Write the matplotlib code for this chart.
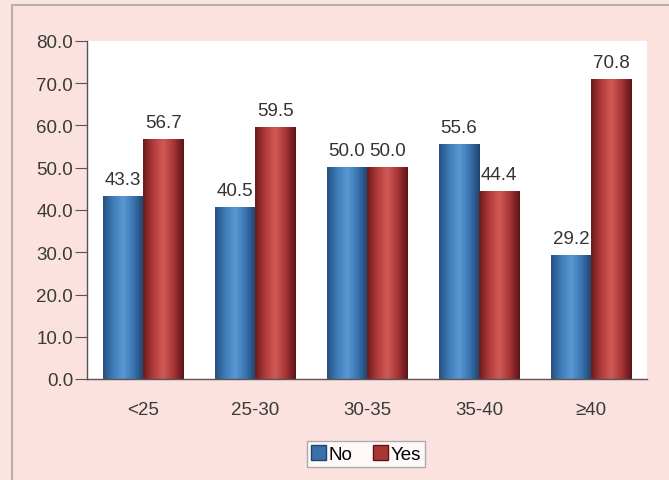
import numpy as np
import matplotlib
matplotlib.use('Agg')
import matplotlib.pyplot as plt
from matplotlib.patches import Rectangle
from matplotlib.colors import LinearSegmentedColormap

plt.rcParams['font.family'] = ['Liberation Sans', 'DejaVu Sans']

categories = ['<25', '25-30', '30-35', '35-40', '≥40']
no_values = [43.3, 40.5, 50.0, 55.6, 29.2]
yes_values = [56.7, 59.5, 50.0, 44.4, 70.8]

blue_map = LinearSegmentedColormap.from_list('blue_bar', ['#24507e', '#3f7dbb', '#5a97d2', '#3a74b0', '#1e4470'])
red_map = LinearSegmentedColormap.from_list('red_bar', ['#6e1a1c', '#b13c3c', '#cf5a55', '#a83636', '#5e1416'])

fig = plt.figure(figsize=(6.69, 4.81), dpi=100)
fig.patch.set_facecolor('#fce4e1')

# panel frame: gray rule on top and left
fig.patches.append(Rectangle((12 / 669, -0.01), 1, 1 - 6 / 481 + 0.01, transform=fig.transFigure,
                             facecolor='#fbe2df', edgecolor='#b8b0ae', linewidth=1.5, zorder=-5))

ax = fig.add_axes([87 / 669, 1 - 380 / 481, 560 / 669, 338 / 481])
ax.set_facecolor('white')

x = np.arange(len(categories))
width = 0.36
grad = np.linspace(0, 1, 64).reshape(1, -1)


def shaded_bars(xs, vals, cmap):
    for xi, v in zip(xs, vals):
        ax.imshow(grad, cmap=cmap, aspect='auto', extent=(xi - width / 2, xi + width / 2, 0, v),
                  zorder=2, interpolation='bicubic')


shaded_bars(x - width / 2, no_values, blue_map)
shaded_bars(x + width / 2, yes_values, red_map)

for xi, v in zip(x - width / 2, no_values):
    ax.text(xi, v + 2, f'{v:.1f}', ha='center', va='bottom', fontsize=13.5, color='#333333')
for xi, v in zip(x + width / 2, yes_values):
    ax.text(xi, v + 2, f'{v:.1f}', ha='center', va='bottom', fontsize=13.5, color='#333333')

ax.set_xlim(-0.5, len(categories) - 0.5)
ax.set_ylim(0, 80)
ax.set_yticks(np.arange(0, 81, 10))
ax.set_yticklabels([f'{t:.1f}' for t in np.arange(0, 81, 10)])
ax.set_xticks(x)
ax.set_xticklabels(categories)
ax.tick_params(axis='y', direction='out', length=9, color='#555555', labelsize=13.5, labelcolor='#3a3a3a', pad=1)
ax.tick_params(axis='x', length=0, labelsize=13.5, labelcolor='#3a3a3a', pad=16)
for side in ['top', 'right']:
    ax.spines[side].set_visible(False)
for side in ['left', 'bottom']:
    ax.spines[side].set_color('#555555')
    ax.spines[side].set_linewidth(1)

handles = [Rectangle((0, 0), 1, 1, facecolor='#3a70aa', edgecolor='#1e4470'),
           Rectangle((0, 0), 1, 1, facecolor='#a83636', edgecolor='#5e1416')]
leg = fig.legend(handles, ['No', 'Yes'], loc='center', bbox_to_anchor=(366 / 669, 1 - 455 / 481),
                 ncol=2, fontsize=13.5, frameon=True, fancybox=False, handlelength=0.8, handleheight=0.85,
                 handletextpad=0.15, columnspacing=1.1, borderpad=0.2)
leg.get_frame().set_edgecolor('#999999')
leg.get_frame().set_facecolor('white')
leg.get_frame().set_linewidth(1)

fig.savefig('out.png', dpi=100, facecolor=fig.get_facecolor())
